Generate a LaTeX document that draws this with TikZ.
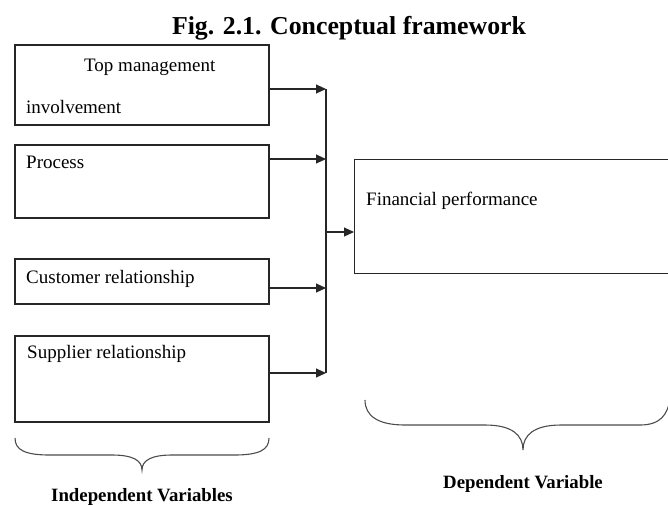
\documentclass[tikz,border=0pt]{standalone}
\usepackage{fontspec}
\setmainfont{Liberation Serif}
\usetikzlibrary{arrows.meta}
\begin{document}
\begin{tikzpicture}[x=1pt,y=-1pt,
  box/.style={draw=black!85,line width=1.1pt,inner sep=0pt},
  lbl/.style={anchor=base west,inner sep=0pt,font=\fontsize{19}{21}\selectfont},
  blbl/.style={anchor=base,inner sep=0pt,font=\fontsize{18.8}{21}\selectfont\bfseries},
  conn/.style={draw=black!85,line width=1.1pt},
  arr/.style={conn,-{Triangle[length=10pt,width=9pt]}},
  brc/.style={draw=black!70,line width=1.1pt}]
\clip (0,0) rectangle (668,504);
% title
\node[anchor=base,inner sep=0pt,font=\fontsize{25.8}{28}\selectfont\bfseries] (title) at (349,34) {Fig. 2.1. Conceptual framework};
% boxes
\draw[box] (15,45) rectangle (269,125);
\coordinate (b1) at (269,85);
\draw[box] (15,145) rectangle (269,218);
\coordinate (b2) at (269,181);
\draw[box] (15,259) rectangle (269,304);
\coordinate (b3) at (269,281);
\draw[box] (15,336) rectangle (269,422);
\coordinate (b4) at (269,379);
\node[box,anchor=north west,minimum width=316pt,minimum height=114pt] (fp) at (354,159) {};
% texts
\node[lbl] (t1a) at (84,71) {Top management};
\node[lbl] (t1b) at (26,113) {involvement};
\node[lbl] (t2) at (26,168) {Process};
\node[lbl] (t3) at (26,283) {Customer relationship};
\node[lbl] (t4) at (27,358) {Supplier relationship};
\node[lbl] (t5) at (366,205) {Financial performance};
% bus
\coordinate (j1) at (326,89);
\coordinate (j2) at (326,159);
\coordinate (jm) at (326,232);
\coordinate (j3) at (326,288);
\coordinate (j4) at (326,373);
\draw[conn] (j1) -- (j4);
\draw[arr] (b1 |- j1) -- (j1);
\draw[arr] (b2 |- j2) -- (j2);
\draw[arr] (b3 |- j3) -- (j3);
\draw[arr] (b4 |- j4) -- (j4);
\draw[arr] (jm) -- (fp.west |- jm);
% braces
\draw[brc] (15,438) .. controls (15,450) and (25,455) .. (50,455) -- (112,455)
  .. controls (132,455) and (142,460) .. (142,470)
  .. controls (142,460) and (152,455) .. (172,455) -- (234,455)
  .. controls (259,455) and (269,450) .. (269,438);
\draw[brc] (365,400) .. controls (365,416) and (378,425) .. (405,425) -- (485,425)
  .. controls (512,425) and (523,435) .. (523,450)
  .. controls (523,435) and (534,425) .. (561,425) -- (640,425)
  .. controls (660,425) and (668,415) .. (670,398);
\node[blbl] (iv) at (142,501) {Independent Variables};
\node[blbl] (dv) at (523,488) {Dependent Variable};
\end{tikzpicture}
\end{document}
